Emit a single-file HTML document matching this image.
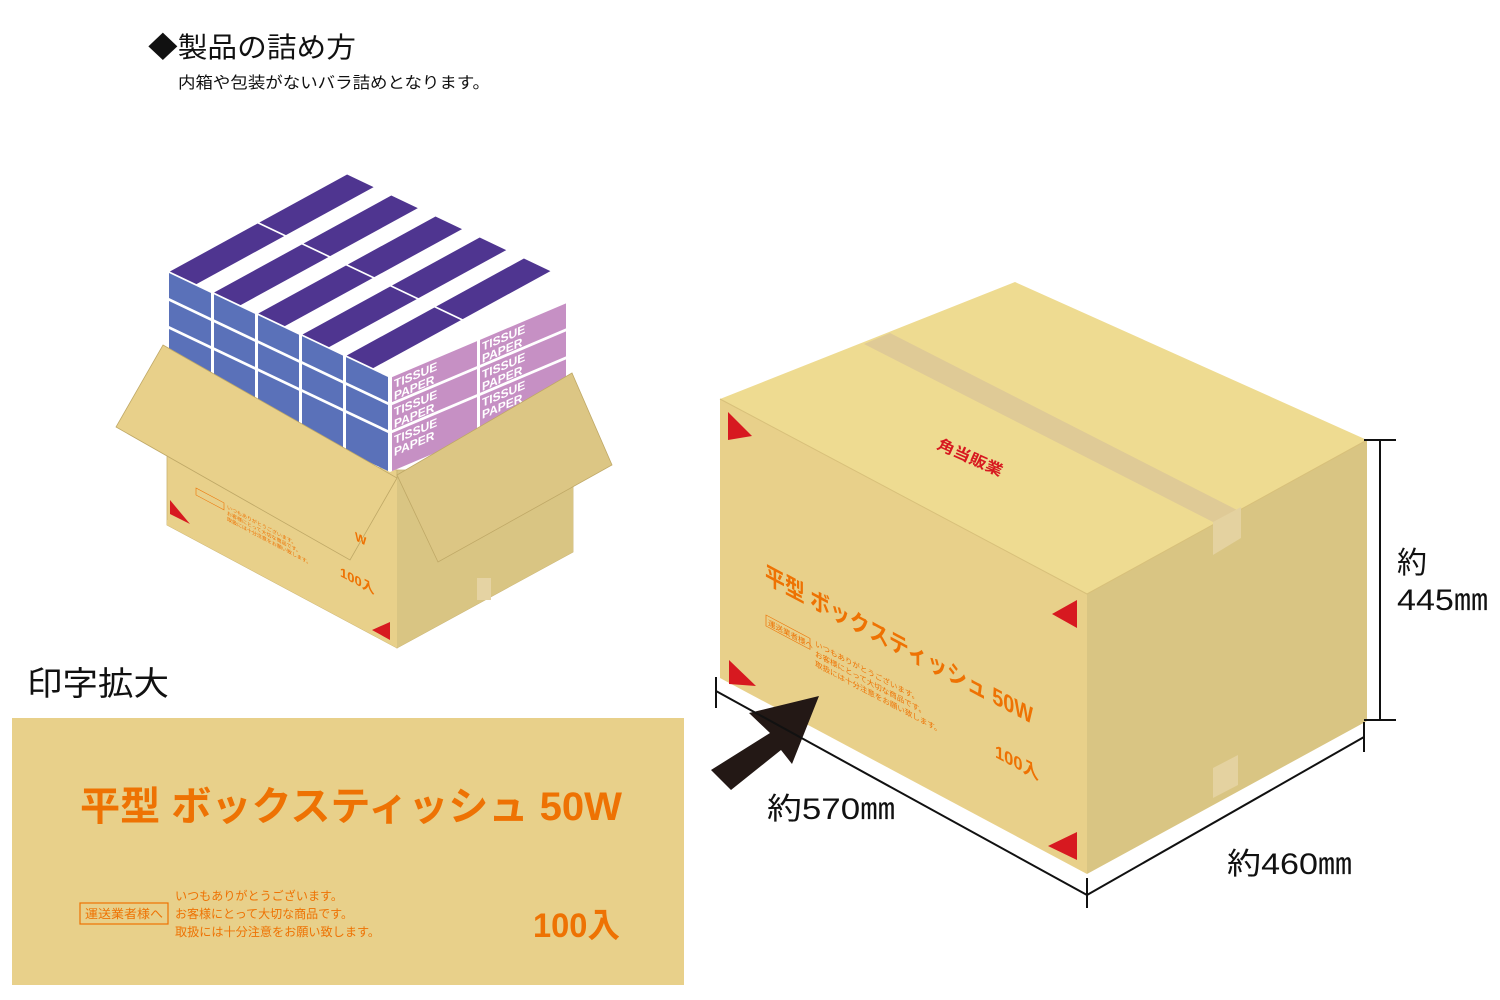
<!DOCTYPE html>
<html><head><meta charset="utf-8"><style>
html,body{margin:0;padding:0;background:#fff;}
svg{display:block;}
text{font-family:"Liberation Sans","Noto Sans CJK JP",sans-serif;}
</style></head><body>
<svg width="1500" height="1000" viewBox="0 0 1500 1000" xmlns="http://www.w3.org/2000/svg">
<text x="148" y="57" font-size="28" textLength="208" lengthAdjust="spacingAndGlyphs" fill="#111">◆製品の詰め方</text>
<text x="178" y="88" font-size="16" textLength="312" lengthAdjust="spacingAndGlyphs" fill="#111">内箱や包装がないバラ詰めとなります。</text>
<text x="27" y="695" font-size="33" textLength="142" lengthAdjust="spacingAndGlyphs" fill="#111">印字拡大</text>

<rect x="12" y="718" width="672" height="267" fill="#e8d08a"/>
<text x="80" y="820" font-size="40" font-weight="bold" fill="#ee7203" textLength="542" lengthAdjust="spacingAndGlyphs">平型 ボックスティッシュ 50W</text>
<rect x="80" y="903" width="88" height="21" fill="none" stroke="#ee7203" stroke-width="1.2"/>
<text x="85" y="918" font-size="12" fill="#ee7203" textLength="78" lengthAdjust="spacingAndGlyphs">運送業者様へ</text>
<text x="175" y="900" font-size="12" fill="#ee7203" textLength="168" lengthAdjust="spacingAndGlyphs">いつもありがとうございます。</text>
<text x="175" y="918" font-size="12" fill="#ee7203" textLength="178" lengthAdjust="spacingAndGlyphs">お客様にとって大切な商品です。</text>
<text x="175" y="936" font-size="12" fill="#ee7203" textLength="205" lengthAdjust="spacingAndGlyphs">取扱には十分注意をお願い致します。</text>
<text x="533" y="937" font-size="34" font-weight="bold" fill="#ee7203" textLength="87" lengthAdjust="spacingAndGlyphs">100入</text>

<!-- small open box -->
<polygon points="167,440 397,470 397,648 167,525" fill="#e8d08a" stroke="#c9b270" stroke-width="0.8"/>
<polygon points="397,470 573,470 573,552 397,648" fill="#d9c583" stroke="#c9b270" stroke-width="0.8"/>
<g transform="matrix(89.5,-49,44.2,21,169,272)">
  <polygon points="0,0 2,0 2,5 0,5" fill="#ffffff"/>
  <g fill="#4f3590">
    <rect x="0.01" y="0" width="0.98" height="0.6"/><rect x="1.01" y="0" width="0.98" height="0.6"/>
    <rect x="0.01" y="1" width="0.98" height="0.6"/><rect x="1.01" y="1" width="0.98" height="0.6"/>
    <rect x="0.01" y="2" width="0.98" height="0.6"/><rect x="1.01" y="2" width="0.98" height="0.6"/>
    <rect x="0.01" y="3" width="0.98" height="0.6"/><rect x="1.01" y="3" width="0.98" height="0.6"/>
    <rect x="0.01" y="4" width="0.98" height="0.6"/><rect x="1.01" y="4" width="0.98" height="0.6"/>
  </g>
</g>
<g transform="matrix(1,0.475,0,1,169,272)">
  <rect x="0" y="0" width="221" height="95" fill="#ffffff"/>
  <g fill="#5a71b9">
    <rect x="0" y="1" width="42" height="25"/><rect x="45" y="1" width="41" height="25"/><rect x="89" y="1" width="41" height="25"/><rect x="133" y="1" width="41" height="25"/><rect x="177" y="1" width="42" height="25"/>
    <rect x="0" y="29" width="42" height="25"/><rect x="45" y="29" width="41" height="25"/><rect x="89" y="29" width="41" height="25"/><rect x="133" y="29" width="41" height="25"/><rect x="177" y="29" width="42" height="25"/>
    <rect x="0" y="57" width="42" height="38"/><rect x="45" y="57" width="41" height="38"/><rect x="89" y="57" width="41" height="38"/><rect x="133" y="57" width="41" height="38"/><rect x="177" y="57" width="42" height="38"/>
  </g>
</g>
<g transform="matrix(1,-0.424,0,1,390,377)">
  <rect x="0" y="0" width="177" height="95" fill="#ffffff"/>
  <g fill="#c690c4">
    <rect x="2" y="1" width="85" height="25"/><rect x="90" y="1" width="86" height="25"/>
    <rect x="2" y="29" width="85" height="25"/><rect x="90" y="29" width="86" height="25"/>
    <rect x="2" y="57" width="85" height="38"/><rect x="90" y="57" width="86" height="38"/>
  </g>
  <g fill="#ffffff" font-weight="bold" font-size="12">
    <text x="4" y="13">TISSUE</text><text x="4" y="25">PAPER</text>
    <text x="92" y="13">TISSUE</text><text x="92" y="25">PAPER</text>
    <text x="4" y="41">TISSUE</text><text x="4" y="53">PAPER</text>
    <text x="92" y="41">TISSUE</text><text x="92" y="53">PAPER</text>
    <text x="4" y="69">TISSUE</text><text x="4" y="81">PAPER</text>
    <text x="92" y="69">TISSUE</text><text x="92" y="81">PAPER</text>
  </g>
</g>
<polygon points="397,478 397,648 167,525 167,520" fill="#e8d08a"/>
<polygon points="397,478 573,480 573,552 397,648" fill="#d9c583"/>
<rect x="477" y="578" width="14" height="22" fill="#e5d3a3"/>
<polygon points="163,345 397,478 350,560 116,427" fill="#e8d08a" stroke="#bfa866" stroke-width="0.8"/>
<polygon points="397,475 572,373 612,465 438,562" fill="#dcc684" stroke="#bfa866" stroke-width="0.8"/>
<g transform="translate(196,494) skewY(28)">
  <rect x="0" y="-6" width="28" height="7" fill="none" stroke="#ee7203" stroke-width="0.6"/>
  <g fill="#ee7203" font-size="5"><text x="31" y="-2">いつもありがとうございます。</text><text x="31" y="4">お客様にとって大切な商品です。</text><text x="31" y="10">取扱には十分注意をお願い致します。</text></g>
</g>
<text transform="translate(340,576) skewY(28)" font-size="13" font-weight="bold" fill="#ee7203">100入</text>
<text transform="translate(355,540) skewY(28)" font-size="12" font-weight="bold" fill="#ee7203">W</text>
<polygon points="170,500 170,514 190,524" fill="#d71920"/>
<polygon points="390,622 390,640 372,630" fill="#d71920"/>

<!-- big box -->
<polygon points="720,399 1015,282 1367,440 1087,594" fill="#eedb91"/>
<polygon points="720,399 1087,594 1087,874 720,678" fill="#e8d08a"/>
<polygon points="1087,594 1367,440 1367,721 1087,874" fill="#d9c583"/>
<polyline points="720,399 1087,594 1367,440" fill="none" stroke="#d8c07a" stroke-width="1"/>
<polygon points="864,344 890,333 1241,512 1213,522" fill="#dfca96"/>
<polygon points="1213,522 1241,507 1241,538 1213,555" fill="#e4d2a0"/>
<polygon points="1213,768 1238,755 1238,785 1213,798" fill="#e4d2a0"/>
<text transform="translate(936,448) rotate(24)" font-size="15" font-weight="bold" fill="#d71920" textLength="70" lengthAdjust="spacingAndGlyphs">角当販業</text>
<text transform="translate(765,582) skewY(28)" font-size="24" font-weight="bold" fill="#ee7203" textLength="268" lengthAdjust="spacingAndGlyphs">平型 ボックスティッシュ 50W</text>
<g transform="translate(766,624) skewY(28)">
  <rect x="0" y="-9" width="44" height="11" fill="none" stroke="#ee7203" stroke-width="0.7"/>
  <text x="2" y="0" font-size="7.5" fill="#ee7203">運送業者様へ</text>
  <g fill="#ee7203" font-size="7.5"><text x="49" y="-4">いつもありがとうございます。</text><text x="49" y="6">お客様にとって大切な商品です。</text><text x="49" y="16">取扱には十分注意をお願い致します。</text></g>
</g>
<text transform="translate(995,757) skewY(28)" font-size="18" font-weight="bold" fill="#ee7203" textLength="44" lengthAdjust="spacingAndGlyphs">100入</text>
<polygon points="728,412 728,440 752,436" fill="#d71920"/>
<polygon points="729,660 729,684 756,686" fill="#d71920"/>
<polygon points="1077,600 1077,628 1052,614" fill="#d71920"/>
<polygon points="1077,832 1077,860 1048,846" fill="#d71920"/>
<polygon points="819,696 749,713 770,733 711,770 731,790 781,750 792,764" fill="#231815"/>
<g stroke="#111" stroke-width="2" fill="none">
  <line x1="716" y1="691" x2="1087" y2="895"/>
  <line x1="716" y1="677" x2="716" y2="708"/>
  <line x1="1087" y1="878" x2="1087" y2="908"/>
  <line x1="1087" y1="895" x2="1364" y2="737"/>
  <line x1="1364" y1="722" x2="1364" y2="752"/>
  <line x1="1380" y1="440" x2="1380" y2="720"/>
  <line x1="1364" y1="440" x2="1396" y2="440"/>
  <line x1="1364" y1="720" x2="1396" y2="720"/>
</g>
<text x="767" y="819" font-size="30" fill="#111" textLength="128" lengthAdjust="spacingAndGlyphs">約570㎜</text>
<text x="1227" y="874" font-size="30" fill="#111" textLength="125" lengthAdjust="spacingAndGlyphs">約460㎜</text>
<text x="1397" y="573" font-size="30" fill="#111">約</text>
<text x="1397" y="610" font-size="30" fill="#111" textLength="91" lengthAdjust="spacingAndGlyphs">445㎜</text>
</svg>
</body></html>
